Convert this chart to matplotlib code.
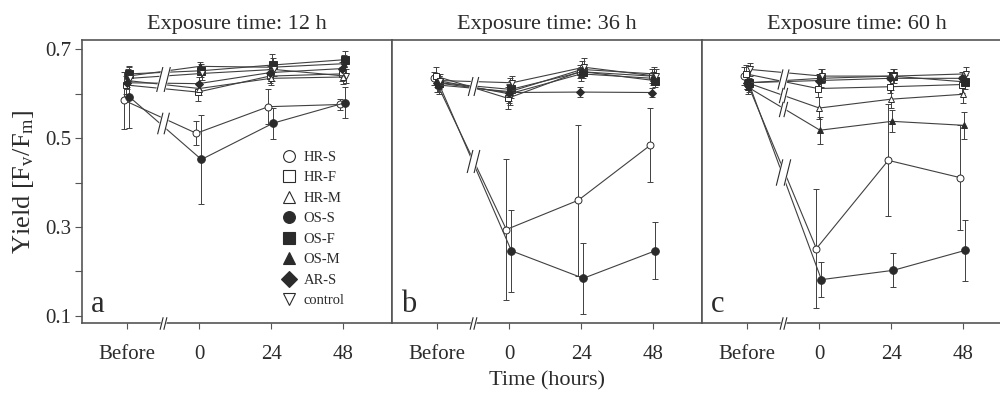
import numpy as np
import matplotlib.pyplot as plt
from matplotlib.path import Path
from matplotlib.lines import Line2D

plt.rcParams['font.family'] = ['Liberation Serif', 'DejaVu Serif']
plt.rcParams['mathtext.fontset'] = 'custom'
plt.rcParams['mathtext.rm'] = 'Liberation Serif'
plt.rcParams['mathtext.it'] = 'Liberation Serif:italic'

# data: one row per panel (12 h, 36 h, 60 h), columns Before, 0, 24, 48
titles = ['Exposure time: 12 h', 'Exposure time: 36 h', 'Exposure time: 60 h']
letters = ['a', 'b', 'c']
x_labels = ['Before', '0', '24', '48']
names = ['HR-S', 'HR-F', 'HR-M', 'OS-S', 'OS-F', 'OS-M', 'AR-S', 'control']

hr_s = [[0.585, 0.511, 0.571, 0.576], [0.635, 0.294, 0.360, 0.484], [0.640, 0.251, 0.450, 0.411]]
hr_f = [[0.620, 0.604, 0.640, 0.645], [0.640, 0.590, 0.650, 0.640], [0.645, 0.612, 0.616, 0.621]]
hr_m = [[0.630, 0.612, 0.635, 0.638], [0.630, 0.600, 0.645, 0.635], [0.625, 0.568, 0.588, 0.599]]
os_s = [[0.593, 0.452, 0.534, 0.580], [0.620, 0.246, 0.184, 0.246], [0.620, 0.181, 0.202, 0.247]]
os_f = [[0.645, 0.652, 0.665, 0.677], [0.625, 0.610, 0.650, 0.630], [0.625, 0.635, 0.640, 0.627]]
os_m = [[0.640, 0.662, 0.660, 0.668], [0.620, 0.605, 0.655, 0.645], [0.615, 0.518, 0.538, 0.529]]
ar_s = [[0.625, 0.623, 0.648, 0.657], [0.625, 0.603, 0.604, 0.603], [0.625, 0.630, 0.635, 0.635]]
ctrl = [[0.635, 0.646, 0.655, 0.640], [0.630, 0.625, 0.660, 0.640], [0.655, 0.640, 0.640, 0.645]]

hr_s_err = [[0.065, 0.027, 0.040, 0.012], [0.015, 0.158, 0.170, 0.083], [0.020, 0.134, 0.126, 0.118]]
hr_f_err = [[0.020, 0.020, 0.015, 0.015], [0.020, 0.025, 0.015, 0.015], [0.020, 0.020, 0.015, 0.020]]
hr_m_err = [[0.015, 0.015, 0.015, 0.015], [0.015, 0.020, 0.015, 0.015], [0.015, 0.025, 0.020, 0.020]]
os_s_err = [[0.070, 0.100, 0.035, 0.035], [0.020, 0.092, 0.080, 0.064], [0.015, 0.040, 0.038, 0.068]]
os_f_err = [[0.015, 0.015, 0.015, 0.020], [0.015, 0.020, 0.015, 0.015], [0.015, 0.020, 0.015, 0.015]]
os_m_err = [[0.015, 0.010, 0.030, 0.020], [0.015, 0.030, 0.020, 0.015], [0.015, 0.030, 0.025, 0.030]]
ar_s_err = [[0.015, 0.015, 0.015, 0.015], [0.020, 0.020, 0.012, 0.010], [0.015, 0.015, 0.015, 0.015]]
ctrl_err = [[0.015, 0.015, 0.015, 0.015], [0.015, 0.015, 0.020, 0.015], [0.015, 0.015, 0.015, 0.015]]

values = [hr_s, hr_f, hr_m, os_s, os_f, os_m, ar_s, ctrl]
errors = [hr_s_err, hr_f_err, hr_m_err, os_s_err, os_f_err, os_m_err, ar_s_err, ctrl_err]

markers = ['o', 's', '^', 'o', 's', '^', 'D', 'v']
filled = [False, False, False, True, True, True, True, False]
sizes = [5, 5, 5, 5.5, 5.5, 5, 4, 5]
shift = [-0.04, -0.02, 0.0, 0.03, 0.02, 0.01, -0.01, 0.04]

ink = '#2b2b2b'
line_c = '#404040'

# "//" break symbol: two slanted strokes and a white gap between them
strokes = Path([(-0.55, -1), (-0.05, 1), (0.05, -1), (0.55, 1)],
               [Path.MOVETO, Path.LINETO, Path.MOVETO, Path.LINETO])
gap = Path([(-0.55, -1), (-0.05, 1), (0.55, 1), (0.05, -1), (-0.55, -1)],
           [Path.MOVETO, Path.LINETO, Path.LINETO, Path.LINETO, Path.CLOSEPOLY])


def draw_break(ax, x, y, ms=10, clip=True):
    ax.plot([x], [y], marker=gap, ms=ms, mfc='white', mec='white', mew=1.5,
            ls='none', zorder=6, clip_on=clip)
    ax.plot([x], [y], marker=strokes, ms=ms, mfc='none', mec=ink, mew=0.8,
            ls='none', zorder=7, clip_on=clip)


fig = plt.figure(figsize=(10, 3.94), dpi=100)
ymin, ymax = 0.083, 0.721
xmin, xmax = -0.63, 3.68
x = np.arange(4)

for p in range(3):
    ax = fig.add_axes([0.082 + 0.31 * p, 0.180, 0.31, 0.718])
    ax.set_xlim(xmin, xmax)
    ax.set_ylim(ymin, ymax)
    for k in range(len(names)):
        xs = x + shift[k]
        ys = values[k][p]
        ax.errorbar(xs, ys, yerr=errors[k][p], fmt='none', ecolor=line_c,
                    elinewidth=0.7, capsize=2.5, capthick=0.7, zorder=2)
        ax.plot(xs, ys, color=line_c, lw=0.8, marker=markers[k], ms=sizes[k],
                mfc=ink if filled[k] else 'white', mec=ink, mew=0.7, zorder=3)

    # break marks on the Before -> 0 segments, one per bundle of nearby lines
    sx = ax.bbox.width / (xmax - xmin)
    sy = ax.bbox.height / (ymax - ymin)
    segs = sorted(((values[k][p][0] + values[k][p][1]) / 2,
                   (values[k][p][1] - values[k][p][0]) * sy / sx) for k in range(len(names)))
    groups = [[segs[0]]]
    for s in segs[1:]:
        prev = groups[-1][-1]
        slope = (s[1] + prev[1]) / 2
        perp = (s[0] - prev[0]) * sy / np.sqrt(1 + slope ** 2)
        if perp < 10:
            groups[-1].append(s)
        else:
            groups.append([s])
    for g in groups:
        mids = [s[0] for s in g]
        span = (max(mids) - min(mids)) * sy
        draw_break(ax, 0.5, np.mean(mids), ms=11 + 0.4 * span)
    draw_break(ax, 0.49, ymin, ms=9, clip=False)

    ax.set_xticks(x)
    ax.set_xticklabels(x_labels)
    ax.tick_params(axis='x', direction='out', length=4, width=0.8, color='#555555',
                   pad=12, labelsize=15, labelcolor=ink)
    if p == 0:
        ax.set_yticks([0.1, 0.3, 0.5, 0.7])
        ax.set_yticklabels(['0.1', '0.3', '0.5', '0.7'])
        ax.set_yticks([0.2, 0.4, 0.6], minor=True)
        ax.tick_params(axis='y', which='both', direction='out', length=5, width=0.8,
                       color='#555555', pad=3, labelsize=15, labelcolor=ink)
        ax.set_ylabel('Yield [F$_{\\mathrm{v}}$/F$_{\\mathrm{m}}$]', fontsize=19,
                      color=ink, labelpad=6)
    else:
        ax.tick_params(axis='y', left=False, labelleft=False)
    for s in ax.spines.values():
        s.set_color('#555555')
        s.set_linewidth(1.2)
    ax.set_title(titles[p], fontsize=16, color=ink, pad=8)
    ax.text(0.028, 0.04, letters[p], transform=ax.transAxes, fontsize=22, color=ink)

    if p == 0:
        handles = [Line2D([], [], ls='none', marker=markers[k], ms=8.5,
                          mfc=ink if filled[k] else 'white', mec=ink, mew=0.8)
                   for k in range(len(names))]
        ax.legend(handles, names, loc='upper left', bbox_to_anchor=(0.645, 0.61),
                  frameon=False, fontsize=10.5, handlelength=1.0, handletextpad=0.5,
                  labelspacing=0.5, borderpad=0, borderaxespad=0, labelcolor=ink)

fig.text(0.547, 0.022, 'Time (hours)', ha='center', fontsize=16, color=ink)
fig.savefig('out.png', dpi=100)
